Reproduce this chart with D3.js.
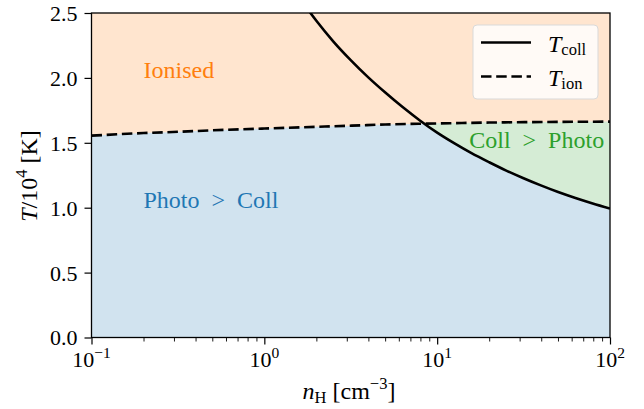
<!DOCTYPE html>
<html>
<head>
<meta charset="utf-8">
<script src="https://cdn.jsdelivr.net/npm/d3@7"></script>
<style>
  html, body { margin: 0; padding: 0; background: #fff; }
  svg text { font-family: "Liberation Serif", "DejaVu Serif", serif; }
</style>
</head>
<body>
<svg id="chart" width="644" height="409"></svg>
<script>
// ---- data ----
const collDensity = [1.78, 2.0, 2.51, 3.16, 3.98, 5.01, 6.31, 7.94, 10, 12.6, 15.8, 20, 25.1, 31.6, 39.8, 50.1, 63.1, 79.4, 100];
const collTemp    = [2.53, 2.44, 2.28, 2.137, 2.006, 1.887, 1.775, 1.672, 1.578, 1.495, 1.42, 1.35, 1.286, 1.227, 1.172, 1.121, 1.075, 1.033, 0.994];

const ionDensity = [0.1, 0.2, 0.32, 0.5, 1, 2, 3.2, 5, 10, 20, 32, 50, 100];
const ionTemp    = [1.555, 1.575, 1.585, 1.596, 1.610, 1.623, 1.632, 1.641, 1.649, 1.656, 1.659, 1.661, 1.663];

const xTickValues = [0.1, 1, 10, 100];
const xTickExps   = ["\u22121", "0", "1", "2"];
const yTickValues = [0, 0.5, 1.0, 1.5, 2.0, 2.5];

const regionLabels = [
  { text: "Ionised",                  n: 0.2,  t: 2.0,   color: "#ff7f0e", anchor: "start" },
  { text: "Photo\u2002>\u2002Coll",   n: 0.2,  t: 1.0,   color: "#1f77b4", anchor: "start" },
  { text: "Coll\u2002>\u2002Photo",   n: 92.5, t: 1.459, color: "#2ca02c", anchor: "end" }
];

// ---- layout ----
const svg = d3.select("#chart");
const L = 91.5, R = 610, T = 13, B = 337.5;
const x = d3.scaleLog().domain([0.1, 100]).range([L, R]);
const y = d3.scaleLinear().domain([0, 2.5]).range([B, T]);

const coll = collDensity.map((n, i) => ({ n, t: collTemp[i] }));
const ion  = ionDensity.map((n, i) => ({ n, t: ionTemp[i] }));

const defs = svg.append("defs");
defs.append("clipPath").attr("id", "plotClip")
  .append("rect").attr("x", L).attr("y", T).attr("width", R - L).attr("height", B - T);

const curve = d3.curveMonotoneX;
const belowIon = d3.area().curve(curve).x(d => x(d.n)).y0(y(0)).y1(d => y(d.t));
const aboveColl = d3.area().curve(curve).x(d => x(d.n)).y0(d => y(d.t)).y1(y(2.6));

defs.append("clipPath").attr("id", "ionClip")
  .append("path").attr("d", belowIon(ion));

const plot = svg.append("g").attr("clip-path", "url(#plotClip)");

// Ionised background
plot.append("rect").attr("x", L).attr("y", T).attr("width", R - L).attr("height", B - T)
  .attr("fill", "#ffe5cf");
// Photo > Coll (below T_ion)
plot.append("path").attr("d", belowIon(ion)).attr("fill", "#d1e3ef");
// Coll > Photo (above T_coll and below T_ion)
plot.append("g").attr("clip-path", "url(#ionClip)")
  .append("path").attr("d", aboveColl(coll)).attr("fill", "#d5ecd5");

const line = d3.line().curve(curve).x(d => x(d.n)).y(d => y(d.t));
plot.append("path").attr("d", line(coll)).attr("fill", "none")
  .attr("stroke", "#000").attr("stroke-width", 2.6);
plot.append("path").attr("d", line(ion)).attr("fill", "none")
  .attr("stroke", "#000").attr("stroke-width", 2.6).attr("stroke-dasharray", "10.5,4.7");

// region labels
regionLabels.forEach(l => {
  svg.append("text").attr("x", x(l.n)).attr("y", y(l.t))
    .attr("text-anchor", l.anchor).attr("font-size", 24).attr("fill", l.color)
    .text(l.text);
});

// ---- axes ----
const xAxis = d3.axisBottom(x).tickValues(xTickValues).tickSize(7).tickFormat("");
const gx = svg.append("g").attr("transform", `translate(0,${B})`).call(xAxis);
gx.select(".domain").remove();
gx.selectAll("line").attr("stroke", "#000").attr("stroke-width", 1.2);

// minor ticks
const minor = [];
[0.1, 1, 10].forEach(dec => { for (let k = 2; k <= 9; k++) minor.push(dec * k); });
svg.append("g").attr("transform", `translate(0,${B})`)
  .call(d3.axisBottom(x).tickValues(minor).tickSize(4).tickFormat(""))
  .call(g => g.select(".domain").remove())
  .selectAll("line").attr("stroke", "#000").attr("stroke-width", 0.9);

// x tick labels with superscripts
xTickValues.forEach((v, i) => {
  const t = svg.append("text").attr("x", x(v)).attr("y", 367)
    .attr("text-anchor", "middle").attr("font-size", 22).attr("fill", "#000");
  t.append("tspan").text("10");
  t.append("tspan").attr("dy", -9).attr("font-size", 15.5).text(xTickExps[i]);
});

const yAxis = d3.axisLeft(y).tickValues(yTickValues).tickSize(7).tickPadding(7)
  .tickFormat(d3.format(".1f"));
const gy = svg.append("g").attr("transform", `translate(${L},0)`).call(yAxis);
gy.select(".domain").remove();
gy.selectAll("line").attr("stroke", "#000").attr("stroke-width", 1.2);
gy.selectAll("text").attr("font-size", 22).attr("fill", "#000")
  .attr("font-family", "Liberation Serif, serif").attr("dy", "0.34em");

// frame
svg.append("rect").attr("x", L).attr("y", T).attr("width", R - L).attr("height", B - T)
  .attr("fill", "none").attr("stroke", "#000").attr("stroke-width", 1.3);

// axis titles
const xl = svg.append("text").attr("x", 349).attr("y", 399).attr("text-anchor", "middle")
  .attr("font-size", 24).attr("fill", "#000");
xl.append("tspan").attr("font-style", "italic").text("n");
xl.append("tspan").attr("font-size", 16.5).attr("dy", 4).text("H");
xl.append("tspan").attr("dy", -4).text(" [cm");
xl.append("tspan").attr("font-size", 16.5).attr("dy", -10).text("\u22123");
xl.append("tspan").attr("dy", 10).text("]");

const yl = svg.append("text").attr("transform", "translate(37,176) rotate(-90)")
  .attr("text-anchor", "middle").attr("font-size", 24).attr("fill", "#000");
yl.append("tspan").attr("font-style", "italic").text("T");
yl.append("tspan").text("/10");
yl.append("tspan").attr("font-size", 16.5).attr("dy", -10).text("4");
yl.append("tspan").attr("dy", 10).text(" [K]");

// ---- legend ----
const lg = svg.append("g");
lg.append("rect").attr("x", 473).attr("y", 25).attr("width", 125).attr("height", 74)
  .attr("rx", 4).attr("fill", "#fffaf6").attr("stroke", "#d9d9d9").attr("stroke-width", 1);
lg.append("line").attr("x1", 481).attr("x2", 531).attr("y1", 42.5).attr("y2", 42.5)
  .attr("stroke", "#000").attr("stroke-width", 2.6);
lg.append("line").attr("x1", 481).attr("x2", 531).attr("y1", 76.5).attr("y2", 76.5)
  .attr("stroke", "#000").attr("stroke-width", 2.6).attr("stroke-dasharray", "10.5,4.7");
const legendItems = [["T", "coll", 52], ["T", "ion", 86]];
legendItems.forEach(([m, s, yy]) => {
  const t = lg.append("text").attr("x", 548).attr("y", yy).attr("font-size", 24).attr("fill", "#000");
  t.append("tspan").attr("font-style", "italic").text(m);
  t.append("tspan").attr("font-size", 16.5).attr("dy", 3).text(s);
});
</script>
</body>
</html>
